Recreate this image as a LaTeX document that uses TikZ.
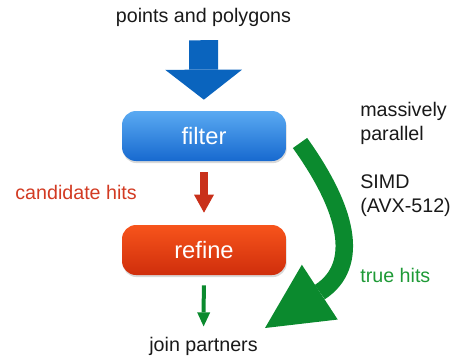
\documentclass[tikz,border=0pt]{standalone}
\usepackage{fontspec}
\setmainfont{Liberation Sans}
\usetikzlibrary{arrows.meta,positioning,shadows}

\definecolor{inblue}{HTML}{0A64BE}
\definecolor{filtertop}{HTML}{5AAAF2}
\definecolor{filterbot}{HTML}{1769CF}
\definecolor{refinetop}{HTML}{F7541B}
\definecolor{refinebot}{HTML}{CF2E0C}
\definecolor{candred}{HTML}{C9301A}
\definecolor{candtext}{HTML}{D23A22}
\definecolor{truegreen}{HTML}{0B8A2E}
\definecolor{truetext}{HTML}{1E9A36}

\begin{document}
\begin{tikzpicture}
    [x=0.02cm,y=-0.02cm,
     every node/.style={font=\fontsize{11.2}{13.7}\selectfont,text=black!90,inner sep=0pt},
     stage/.style={rectangle,rounded corners=0.28cm,minimum width=3.28cm,minimum height=1cm,
                   text=white,font=\fontsize{13.5}{16}\selectfont,
                   drop shadow={opacity=0.3,shadow xshift=0.4pt,shadow yshift=-1.2pt}},
     inarrow/.style={draw=inblue,line width=0.58cm,
                     -{Triangle[length=0.6cm,width=1.54cm,line width=0pt]}},
     candarrow/.style={draw=candred,line width=0.16cm,
                       -{Triangle[length=0.36cm,width=0.4cm,line width=0pt]}},
     outarrow/.style={draw=truegreen,line width=0.08cm,
                      -{Triangle[length=0.28cm,width=0.26cm,line width=0pt]}},
     truearrow/.style={draw=truegreen,line width=0.35cm,
                       -{Triangle[length=1.31cm,width=1.31cm,line width=0pt]}}]
    \useasboundingbox (0,0) rectangle (456,356);

    % pipeline
    \node (pts) at (203.5,22) [anchor=base] {points and polygons};
    \node (filter) at (204,136) [stage,top color=filtertop,bottom color=filterbot] {filter};
    \node (refine) at (204,250) [stage,top color=refinetop,bottom color=refinebot] {refine};
    \node (join) at (203.5,351) [anchor=base] {join partners};

    % side notes
    \node (cand) at (15,199) [anchor=base west,text=candtext] {candidate hits};
    \node (parallel) at (360,102) [anchor=north west,align=left] {massively\\parallel};
    \node (simd) at (360,174) [anchor=north west,align=left] {SIMD\\(AVX-512)};
    \node (truehits) at (360,282) [anchor=base west,text=truetext] {true hits};

    \draw [inarrow,shorten <=0.276cm,shorten >=0.22cm] (pts) -- (filter);
    \draw [candarrow,shorten <=0.22cm,shorten >=0.24cm] (filter) -- (refine);
    \draw [outarrow,shorten <=0.2cm,shorten >=0.2cm] (refine) -- (join);

    % shortcut for the true hits
    \coordinate (tstart) at (300,143);
    \coordinate (tend) at (265,328);
    \draw [truearrow] (tstart) .. controls (346.4,207.8) and (361.7,264.7) .. (tend);
\end{tikzpicture}
\end{document}
